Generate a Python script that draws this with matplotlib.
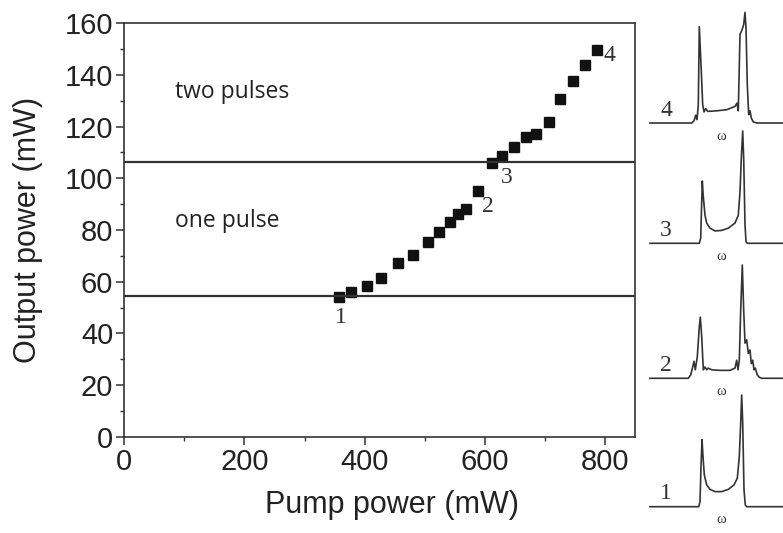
import matplotlib
matplotlib.use("Agg")
import matplotlib.pyplot as plt
from matplotlib.ticker import MultipleLocator

# main data: pump power vs output power
pump = [358, 378, 404, 428, 455, 481, 505, 524, 542, 556, 569, 589,
        612, 628, 648, 668, 686, 707, 726, 747, 767, 786]
output = [54.2, 56.1, 58.3, 61.3, 67.3, 70.2, 75.2, 79.2, 83.0, 86.1, 88.0, 95.0,
          106.0, 108.7, 112.1, 116.0, 117.0, 121.9, 130.8, 137.8, 143.8, 149.7]
thresholds = [54.4, 106.4]
point_labels = ["1", "2", "3", "4"]
point_label_xy = [(360, 46), (605, 89), (637, 100.5), (808, 147.5)]

# spectra (arbitrary frequency units, normalised intensity)
spec4_f = [0, 41.7, 44, 45.7, 47, 48.3, 49.3, 51, 52.7, 54, 55.7, 57.7, 66.7, 76.7,
           85, 87, 88.3, 90, 92, 93.7, 95, 96, 97.3, 98.7, 100, 101.3, 103.3, 106.7, 133.3]
spec4_i = [0, 0, 0.02, 0.07, 0.03, 0.165, 0.87, 0.53, 0.165, 0.10, 0.13, 0.105, 0.11, 0.12,
           0.15, 0.18, 0.11, 0.80, 0.84, 0.89, 1.0, 0.86, 0.345, 0.075, 0.11, 0.045, 0.01, 0, 0]
spec3_f = [0, 49.3, 50.7, 51.7, 52.3, 53.3, 55, 56.7, 60, 65, 71.7, 78.3, 85, 88.3,
           90, 91.3, 92.7, 93.7, 95, 96, 97.3, 133.3]
spec3_i = [0, 0, 0.045, 0.37, 0.555, 0.415, 0.25, 0.18, 0.135, 0.11, 0.115, 0.135, 0.18, 0.25,
           0.46, 0.755, 1.0, 0.755, 0.165, 0.015, 0, 0]
spec2_f = [0, 38.3, 40.7, 42.7, 44, 45.3, 47.3, 49.3, 50.3, 51.7, 53.3, 55, 56.7, 58.3,
           61.7, 70, 80, 85, 86.7, 88, 89.3, 90.7, 92.3, 93.7, 95, 96.7, 98.3, 100,
           101.3, 102.7, 104, 105.3, 107.3, 109.3, 111.7, 133.3]
spec2_i = [0, 0, 0.03, 0.10, 0.15, 0.075, 0.19, 0.455, 0.54, 0.37, 0.075, 0.10, 0.075, 0.09,
           0.075, 0.07, 0.07, 0.09, 0.16, 0.075, 0.16, 0.60, 1.0, 0.60, 0.31, 0.34, 0.22, 0.25,
           0.13, 0.16, 0.075, 0.09, 0.03, 0.01, 0, 0]
spec1_f = [0, 48.7, 50, 51, 52, 53, 54.3, 56.7, 60, 65, 71.7, 78.3, 84, 87.3,
           89.3, 90.7, 91.7, 92.7, 94, 95.3, 96.7, 133.3]
spec1_i = [0, 0, 0.045, 0.36, 0.60, 0.45, 0.285, 0.195, 0.155, 0.135, 0.135, 0.155, 0.195, 0.255,
           0.45, 0.75, 1.0, 0.75, 0.15, 0.015, 0, 0]
spectra = [(spec4_f, spec4_i, "4"), (spec3_f, spec3_i, "3"),
           (spec2_f, spec2_i, "2"), (spec1_f, spec1_i, "1")]
# (baseline px, peak px) of each inset, from top of figure
inset_rows = [(123, 12.3), (243.3, 131), (378.3, 265), (506.7, 395)]

W, H = 783, 533
fig = plt.figure(figsize=(W / 100, H / 100), dpi=100)
sans = "Liberation Sans"
serif = "Liberation Serif"
txt = "#222222"

ax = fig.add_axes([124.3 / W, 1 - 436.7 / H, (635 - 124.3) / W, (436.7 - 23.3) / H])
ax.plot(pump, output, "s", color="#111111", markersize=6.5)
for t in thresholds:
    ax.axhline(t, color="#333333", lw=1.6)
for lab, (lx, ly) in zip(point_labels, point_label_xy):
    ax.text(lx, ly, lab, fontsize=17, family=serif, color="#333333", ha="center", va="center")
ax.text(84, 133.4, "two pulses", fontsize=16.5, family="Open Sans", color=txt, va="center")
ax.text(84, 83.5, "one pulse", fontsize=16.5, family="Open Sans", color=txt, va="center")

ax.set_xlim(0, 850)
ax.set_ylim(0, 160)
ax.xaxis.set_major_locator(MultipleLocator(200))
ax.xaxis.set_minor_locator(MultipleLocator(100))
ax.yaxis.set_major_locator(MultipleLocator(20))
ax.yaxis.set_minor_locator(MultipleLocator(10))
ax.tick_params(which="both", direction="out", top=False, right=False, color="#333333")
ax.tick_params(which="major", length=5.5, width=1.1, labelsize=21, labelcolor=txt, pad=2.5)
ax.tick_params(which="minor", length=3.2, width=1.0)
for lbl in ax.get_xticklabels() + ax.get_yticklabels():
    lbl.set_family(sans)
for s in ax.spines.values():
    s.set_linewidth(1.2)
    s.set_color("#333333")
ax.set_xlabel("Pump power (mW)", fontsize=22, family=sans, color=txt)
ax.set_ylabel("Output power (mW)", fontsize=22, family=sans, color=txt)
ax.xaxis.set_label_coords(0.525, -0.128)
ax.yaxis.set_label_coords(-0.16, 0.5)

for (f, i, lab), (base, peak) in zip(spectra, inset_rows):
    iax = fig.add_axes([650 / W, 1 - base / H, 133.3 / W, (base - peak) / H])
    iax.plot(f, i, color="#333333", lw=1.2, clip_on=False)
    iax.set_xlim(0, 133.3)
    iax.set_ylim(0, 1)
    iax.axis("off")
    iax.text(16, 0.02, lab, fontsize=17, family=serif, color="#333333",
             ha="center", va="bottom")
    iax.text(71.7, -0.06, "ω", fontsize=10.5, family=serif, color="#333333",
             ha="center", va="top")

fig.savefig("out.png", dpi=100, facecolor="white")
